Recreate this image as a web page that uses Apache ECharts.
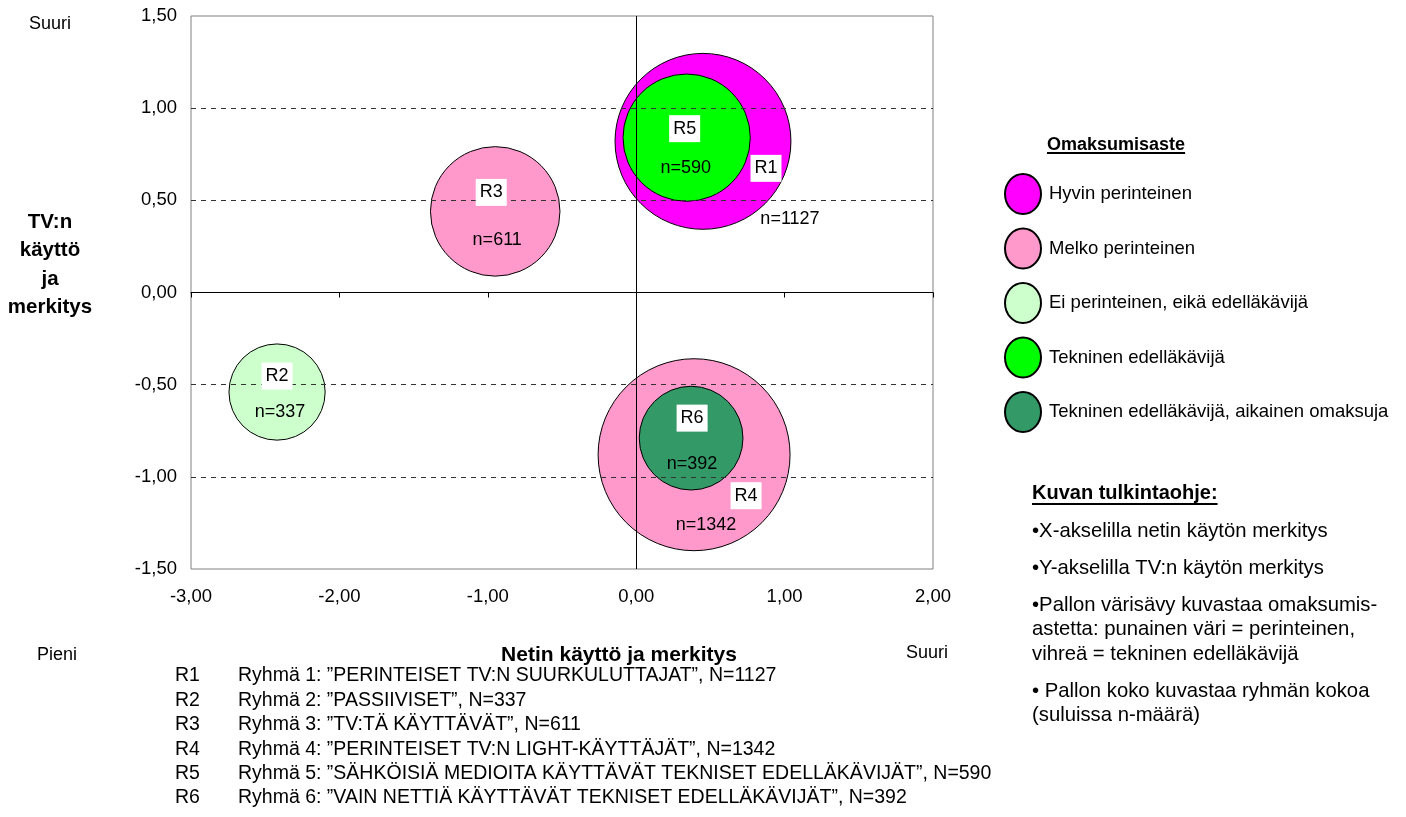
<!DOCTYPE html>
<html lang="fi">
<head>
    <meta charset="UTF-8">
    <title>Omaksumisaste</title>
    <script src="https://cdn.jsdelivr.net/npm/echarts@6/dist/echarts.min.js"></script>
    <style>
        html, body { margin: 0; padding: 0; background: #fff; }
        #main { width: 1406px; height: 817px; }
    </style>
</head>
<body>
<div id="main"></div>

<script type="text/javascript">
    // ryhmät
    var ids = ['R1', 'R2', 'R3', 'R4', 'R5', 'R6'];
    var netUse = [0.45, -2.42, -0.95, 0.39, 0.34, 0.37];
    var tvUse = [0.82, -0.54, 0.44, -0.88, 0.84, -0.79];
    var groupSize = [1127, 337, 611, 1342, 590, 392];
    var groupClass = [0, 2, 1, 1, 3, 4];
    var groupNames = [
        'Ryhmä 1: ”PERINTEISET TV:N SUURKULUTTAJAT”, N=1127',
        'Ryhmä 2: ”PASSIIVISET”, N=337',
        'Ryhmä 3: ”TV:TÄ KÄYTTÄVÄT”, N=611',
        'Ryhmä 4: ”PERINTEISET TV:N LIGHT-KÄYTTÄJÄT”, N=1342',
        'Ryhmä 5: ”SÄHKÖISIÄ MEDIOITA KÄYTTÄVÄT TEKNISET EDELLÄKÄVIJÄT”, N=590',
        'Ryhmä 6: ”VAIN NETTIÄ KÄYTTÄVÄT TEKNISET EDELLÄKÄVIJÄT”, N=392'
    ];
    var classNames = [
        'Hyvin perinteinen',
        'Melko perinteinen',
        'Ei perinteinen, eikä edelläkävijä',
        'Tekninen edelläkävijä',
        'Tekninen edelläkävijä, aikainen omaksuja'
    ];
    var guideLines = [
        '•X-akselilla netin käytön merkitys',
        '•Y-akselilla TV:n käytön merkitys',
        '•Pallon värisävy kuvastaa omaksumis-\nastetta: punainen väri = perinteinen,\nvihreä = tekninen edelläkävijä',
        '• Pallon koko kuvastaa ryhmän kokoa\n(suluissa n-määrä)'
    ];
    var yGridLines = [-1, -0.5, 0.5, 1];

    // ulkoasu
    var classColors = ['#FF00FF', '#FF99CC', '#CCFFCC', '#00FF00', '#339966'];
    var tagOffset = {R1: [63, 27], R2: [0, -16], R3: [-4, -19], R4: [52, 41], R5: [-2, -9], R6: [1, -20]};
    var countOffset = {R1: [87, 78], R2: [3, 20], R3: [2, 29], R4: [12, 70], R5: [-1, 30], R6: [1, 26]};
    var FONT = '"Liberation Sans", Arial, sans-serif';
    var bubbleScale = 5.24;

    var myChart = echarts.init(document.getElementById('main'));

    function fmt(v) {
        return v.toFixed(2).replace('.', ',');
    }

    function textWidth(txt, font) {
        var ctx = document.createElement('canvas').getContext('2d');
        ctx.font = font;
        return ctx.measureText(txt).width;
    }

    var series = [{
        // apuviivat ja pystyakseli
        type: 'scatter',
        name: 'lines',
        data: [],
        z: 1,
        silent: true,
        markLine: {
            silent: true,
            symbol: ['none', 'none'],
            label: {show: false},
            lineStyle: {color: '#333', type: [5, 5], width: 1},
            data: yGridLines.map(function (v) { return {yAxis: v}; }).concat([
                {xAxis: 0, lineStyle: {color: '#000', type: 'solid', width: 1}}
            ])
        }
    }];

    classNames.forEach(function (cls, c) {
        var pts = [];
        ids.forEach(function (id, i) {
            if (groupClass[i] === c) pts.push([netUse[i], tvUse[i], groupSize[i], id]);
        });
        series.push({
            type: 'scatter',
            name: cls,
            data: pts,
            z: 2,
            silent: true,
            symbolSize: function (d) { return Math.sqrt(d[2]) * bubbleScale; },
            itemStyle: {color: classColors[c], opacity: 1, borderColor: '#000', borderWidth: 1}
        });
    });

    function labelSeries(name, labelFn) {
        return {
            type: 'scatter',
            name: name,
            z: 10,
            silent: true,
            symbolSize: 1,
            itemStyle: {color: 'transparent', opacity: 1},
            data: ids.map(function (id, i) {
                return {value: [netUse[i], tvUse[i]], label: labelFn(id, i)};
            })
        };
    }

    series.push(labelSeries('tags', function (id) {
        return {
            show: true, position: 'inside', offset: tagOffset[id], formatter: id,
            backgroundColor: '#fff', padding: [5, 4, 4, 4],
            color: '#000', fontSize: 18, fontFamily: FONT, opacity: 1
        };
    }));
    series.push(labelSeries('counts', function (id, i) {
        return {
            show: true, position: 'inside', offset: countOffset[id],
            formatter: 'n=' + groupSize[i],
            color: '#000', fontSize: 18, fontFamily: FONT, opacity: 1
        };
    }));

    var graphic = [];
    function addText(x, y, txt, opt) {
        graphic.push({
            type: 'text', x: x, y: y, silent: true,
            style: Object.assign({
                text: txt, fill: '#000', font: '18px ' + FONT,
                textAlign: 'left', textVerticalAlign: 'middle'
            }, opt || {})
        });
    }
    function underline(x, y, txt, font) {
        graphic.push({
            type: 'line', silent: true,
            shape: {x1: x, y1: y, x2: x + textWidth(txt, font), y2: y},
            style: {stroke: '#000', lineWidth: 2}
        });
    }

    addText(50, 24, 'Suuri', {textAlign: 'center'});
    addText(50, 265, 'TV:n\nkäyttö\nja\nmerkitys', {
        textAlign: 'center', font: 'bold 20.5px ' + FONT, lineHeight: 28.5
    });
    addText(57, 655, 'Pieni', {textAlign: 'center'});
    addText(619, 655, 'Netin käyttö ja merkitys', {textAlign: 'center', font: 'bold 21px ' + FONT});
    addText(927, 653, 'Suuri', {textAlign: 'center'});

    ids.forEach(function (id, i) {
        var y = 676 + i * 24.4;
        addText(175, y, id, {font: '19.5px ' + FONT});
        addText(238, y, groupNames[i], {font: '19.5px ' + FONT});
    });

    var legFont = 'bold 18px ' + FONT;
    addText(1047, 145, 'Omaksumisaste', {font: legFont});
    underline(1047, 153, 'Omaksumisaste', legFont);

    var guideFont = 'bold 20px ' + FONT;
    addText(1032, 493, 'Kuvan tulkintaohje:', {font: guideFont});
    underline(1032, 504, 'Kuvan tulkintaohje:', guideFont);
    var guideY = [531, 568, 605, 691];
    guideLines.forEach(function (t, i) {
        addText(1032, guideY[i] - 12, t, {
            font: '20.3px ' + FONT, textVerticalAlign: 'top', lineHeight: 24.5
        });
    });

    var option = {
        backgroundColor: '#ffffff',
        animation: false,
        textStyle: {fontFamily: FONT, color: '#000'},
        grid: {
            left: 191, top: 16, width: 742, height: 553,
            show: true, borderColor: '#808080', borderWidth: 1,
            containLabel: false
        },
        legend: {
            data: classNames,
            orient: 'vertical',
            left: 1004,
            top: 173,
            padding: 0,
            itemWidth: 36,
            itemHeight: 40,
            itemGap: 12.5,
            icon: 'path://M0,20A18,20,0,1,1,36,20A18,20,0,1,1,0,20Z',
            selectedMode: false,
            textStyle: {fontSize: 18.5, color: '#000', fontFamily: FONT, padding: [0, 0, 0, 3]}
        },
        xAxis: [{
            type: 'value',
            min: -3,
            max: 2,
            interval: 1,
            position: 'bottom',
            axisLine: {show: false, onZero: false},
            axisTick: {show: false},
            splitLine: {show: false},
            axisLabel: {
                margin: 18, fontSize: 18.5, color: '#000', fontFamily: FONT,
                formatter: fmt
            }
        }, {
            // vaaka-akseli nollakohdassa
            type: 'value',
            min: -3,
            max: 2,
            interval: 1,
            position: 'bottom',
            axisLine: {show: true, onZero: true, lineStyle: {color: '#000', width: 1}},
            axisTick: {show: true, length: 5, lineStyle: {color: '#000'}},
            splitLine: {show: false},
            axisLabel: {show: false}
        }],
        yAxis: {
            type: 'value',
            min: -1.5,
            max: 1.5,
            interval: 0.5,
            axisLine: {show: false, onZero: false},
            axisTick: {show: false},
            splitLine: {show: false},
            axisLabel: {
                margin: 14, fontSize: 18.5, color: '#000', fontFamily: FONT,
                formatter: fmt
            }
        },
        graphic: graphic,
        series: series
    };

    myChart.setOption(option);
</script>
</body>
</html>
